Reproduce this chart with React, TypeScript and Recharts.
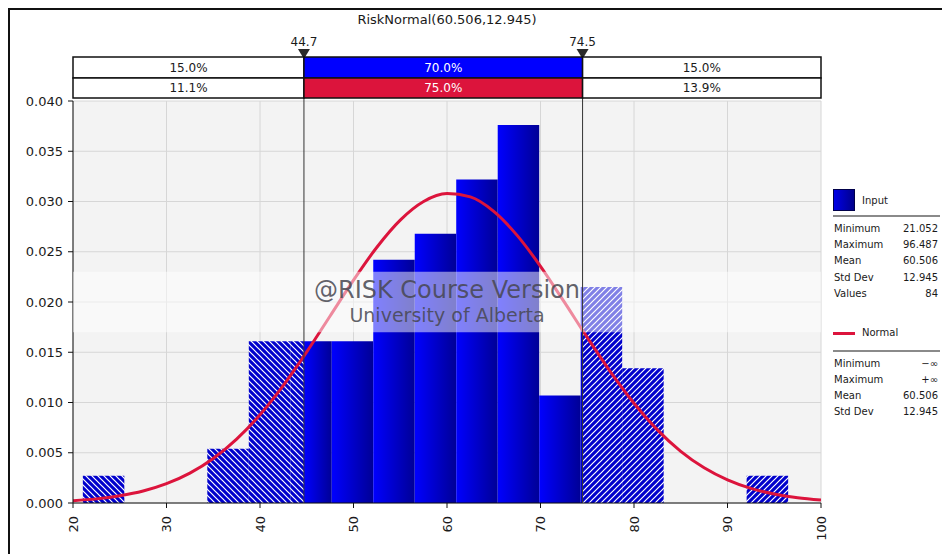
import React from 'react';
import {
  ComposedChart,
  Line,
  XAxis,
  YAxis,
  CartesianGrid,
  ReferenceArea,
  ReferenceLine,
} from 'recharts';

const FONT = '"DejaVu Sans", Verdana, sans-serif';
const TEXT = '#1a1a1a';

// histogram bin edges (17 bins) and their densities
const BIN_EDGES = [
  21.052, 25.489, 29.926, 34.364, 38.801, 43.238, 47.675, 52.112, 56.55,
  60.987, 65.424, 69.861, 74.298, 78.736, 83.173, 87.61, 92.047, 96.487,
];
const BIN_DENSITY = [
  0.0027, 0, 0, 0.0054, 0.0161, 0.0161, 0.0161, 0.0242, 0.0268, 0.0322,
  0.0376, 0.0107, 0.0215, 0.0134, 0, 0, 0.0027,
];

// fitted normal curve
const CURVE_X = [
  20, 22.5, 25, 27.5, 30, 32.5, 35, 37.5, 40, 42.5, 45, 47.5, 50, 52.5, 55,
  57.5, 60, 62.5, 65, 67.5, 70, 72.5, 75, 77.5, 80, 82.5, 85, 87.5, 90, 92.5,
  95, 97.5, 100,
];
const CURVE_PDF = [
  0.00023, 0.00041, 0.00072, 0.00119, 0.00192, 0.00297, 0.00443, 0.00636,
  0.00879, 0.01171, 0.01504, 0.01861, 0.02217, 0.02545, 0.02815, 0.03,
  0.03079, 0.03046, 0.02902, 0.02663, 0.02355, 0.02006, 0.01647, 0.01302,
  0.00992, 0.00728, 0.00514, 0.0035, 0.0023, 0.00145, 0.00089, 0.00052,
  0.00029,
];

const LEFT_CUT = 44.7;
const RIGHT_CUT = 74.5;
const X_TICKS = [20, 30, 40, 50, 60, 70, 80, 90, 100];
const Y_TICKS = [0, 0.005, 0.01, 0.015, 0.02, 0.025, 0.03, 0.035, 0.04];

const TARGET_PCT = ['15.0%', '70.0%', '15.0%'];
const SAMPLE_PCT = ['11.1%', '75.0%', '13.9%'];

const INPUT_STATS = [
  ['Minimum', '21.052'],
  ['Maximum', '96.487'],
  ['Mean', '60.506'],
  ['Std Dev', '12.945'],
  ['Values', '84'],
];
const NORMAL_STATS = [
  ['Minimum', '\u2212\u221e'],
  ['Maximum', '+\u221e'],
  ['Mean', '60.506'],
  ['Std Dev', '12.945'],
];

const curveData = CURVE_X.map((x, i) => ({ x, pdf: CURVE_PDF[i] }));

// split each bin at the two cut values so the tails can be hatched
type Piece = { lo: number; hi: number; h: number; zone: 'left' | 'mid' | 'right' };
const pieces: Piece[] = [];
BIN_DENSITY.forEach((h, i) => {
  if (!h) return;
  const stops = [BIN_EDGES[i], BIN_EDGES[i + 1]];
  [LEFT_CUT, RIGHT_CUT].forEach((c) => {
    if (c > stops[0] && c < stops[stops.length - 1]) stops.splice(stops.length - 1, 0, c);
  });
  for (let k = 0; k < stops.length - 1; k++) {
    const lo = stops[k];
    const hi = stops[k + 1];
    const zone = hi <= LEFT_CUT ? 'left' : lo >= RIGHT_CUT ? 'right' : 'mid';
    pieces.push({ lo, hi, h, zone });
  }
});

const ZONE_FILL = {
  left: 'url(#hatchLeft)',
  mid: 'url(#barShade)',
  right: 'url(#hatchRight)',
};

// header strip rows, in y-axis units above the plot
const HEADER_BOUNDS = [20, LEFT_CUT, RIGHT_CUT, 100];
const HEADER_ROWS = [
  { lo: 0.04229, hi: 0.04438, labels: TARGET_PCT, mid: '#0000ff' },
  { lo: 0.0403, hi: 0.04229, labels: SAMPLE_PCT, mid: '#dc143c' },
];

const XTick = (props: any) => {
  const { x, y, payload } = props;
  const ty = y + 6;
  return (
    <text
      x={x}
      y={ty}
      transform={`rotate(-90 ${x} ${ty})`}
      textAnchor="end"
      dominantBaseline="central"
      fontSize={13}
      fontFamily={FONT}
      fill={TEXT}
    >
      {payload.value}
    </text>
  );
};

const cutLabel = (value: string) => (props: any) => {
  const vb = props.viewBox || {};
  const x = vb.x;
  const top = vb.y;
  return (
    <g>
      <text x={x} y={top - 11} textAnchor="middle" fontSize={12} fontFamily={FONT} fill={TEXT}>
        {value}
      </text>
      <polygon points={`${x - 6},${top - 8} ${x + 6},${top - 8} ${x},${top + 2}`} fill="#2a2a2a" />
    </g>
  );
};

const watermark = (props: any) => {
  const vb = props.viewBox || {};
  const cx = vb.x + vb.width / 2;
  return (
    <g fontFamily={FONT} fill="#474750" fillOpacity={0.85} textAnchor="middle">
      <text x={cx} y={vb.y + 26} fontSize={24}>
        @RISK Course Version
      </text>
      <text x={cx} y={vb.y + 50} fontSize={19}>
        University of Alberta
      </text>
    </g>
  );
};

const statRow = (label: string, value: string, top: number) => (
  <div
    key={label + top}
    style={{ position: 'absolute', left: 834, top, width: 104, height: 12, lineHeight: '12px' }}
  >
    <span style={{ position: 'absolute', left: 0 }}>{label}</span>
    <span style={{ position: 'absolute', right: 0 }}>{value}</span>
  </div>
);

export default function App() {
  return (
    <div
      style={{
        position: 'absolute',
        left: 0,
        top: 0,
        width: 942,
        height: 554,
        overflow: 'hidden',
        background: '#fff',
        fontFamily: FONT,
        color: TEXT,
      }}
    >
      <div
        style={{
          position: 'absolute',
          left: 8,
          top: 8,
          width: 960,
          height: 600,
          borderLeft: '2px solid #111',
          borderTop: '2px solid #111',
        }}
      />
      <div
        style={{
          position: 'absolute',
          left: 73,
          width: 748,
          top: 12,
          textAlign: 'center',
          fontSize: 13,
        }}
      >
        RiskNormal(60.506,12.945)
      </div>

      <div style={{ position: 'absolute', left: 0, top: 0 }}>
        <ComposedChart
          width={942}
          height={554}
          data={curveData}
          margin={{ top: 101, right: 121, bottom: 0, left: 0 }}
        >
          <defs>
            <linearGradient id="barShade" x1="0" y1="0" x2="1" y2="0">
              <stop offset="0%" stopColor="#0000ff" />
              <stop offset="100%" stopColor="#000096" />
            </linearGradient>
            <pattern id="hatchLeft" patternUnits="userSpaceOnUse" width="6" height="6">
              <rect width="6" height="6" fill="#0000cc" />
              <path d="M0,0 L6,6 M-1,5 L1,7 M5,-1 L7,1" stroke="#ffffff" strokeWidth={1.2} />
            </pattern>
            <pattern id="hatchRight" patternUnits="userSpaceOnUse" width="6" height="6">
              <rect width="6" height="6" fill="#0000cc" />
              <path d="M0,6 L6,0 M-1,1 L1,-1 M5,7 L7,5" stroke="#ffffff" strokeWidth={1.2} />
            </pattern>
          </defs>
          <CartesianGrid stroke="#d6d6d6" fill="#f3f3f3" />
          <XAxis
            dataKey="x"
            type="number"
            domain={[20, 100]}
            ticks={X_TICKS}
            height={51}
            stroke="#111"
            tickSize={5}
            tick={<XTick />}
            allowDataOverflow
          />
          <YAxis
            type="number"
            domain={[0, 0.04]}
            ticks={Y_TICKS}
            width={73}
            stroke="#111"
            tickSize={5}
            tickMargin={5}
            tickFormatter={(v: number) => v.toFixed(3)}
            tick={{ fontSize: 13, fontFamily: FONT, fill: TEXT }}
          />

          {pieces.map((p, i) => (
            <ReferenceArea
              key={`bin-${i}`}
              x1={p.lo}
              x2={p.hi}
              y1={0}
              y2={p.h}
              fill={ZONE_FILL[p.zone]}
              fillOpacity={1}
              stroke="none"
              ifOverflow="visible"
            />
          ))}

          <Line
            dataKey="pdf"
            type="monotone"
            stroke="#dc143c"
            strokeWidth={3}
            dot={false}
            activeDot={false}
            isAnimationActive={false}
          />

          <ReferenceArea
            y1={0.017}
            y2={0.023}
            fill="#ffffff"
            fillOpacity={0.5}
            stroke="none"
            ifOverflow="visible"
            zIndex={900}
            label={watermark}
          />

          {[LEFT_CUT, RIGHT_CUT].map((c) => (
            <ReferenceLine
              key={`cut-${c}`}
              segment={[
                { x: c, y: 0 },
                { x: c, y: 0.04438 },
              ]}
              stroke="#333"
              strokeWidth={1}
              ifOverflow="visible"
              zIndex={950}
              label={cutLabel(c.toFixed(1))}
            />
          ))}

          {HEADER_ROWS.map((row, r) =>
            row.labels.map((lab, k) => (
              <ReferenceArea
                key={`hdr-${r}-${k}`}
                x1={HEADER_BOUNDS[k]}
                x2={HEADER_BOUNDS[k + 1]}
                y1={row.lo}
                y2={row.hi}
                fill={k === 1 ? row.mid : '#ffffff'}
                fillOpacity={1}
                stroke="#111"
                strokeWidth={1.5}
                ifOverflow="visible"
                zIndex={960}
                label={{
                  value: lab,
                  position: 'center',
                  fill: k === 1 ? '#ffffff' : TEXT,
                  fontSize: 12,
                  fontFamily: FONT,
                }}
              />
            ))
          )}
        </ComposedChart>
      </div>

      {/* statistics panel */}
      <div style={{ position: 'absolute', left: 0, top: 0, fontSize: 10 }}>
        <div
          style={{
            position: 'absolute',
            left: 833,
            top: 189,
            width: 20,
            height: 20,
            border: '1px solid #00004a',
            background: 'linear-gradient(to right, #0000e6, #00008c)',
          }}
        />
        <div style={{ position: 'absolute', left: 862, top: 195, lineHeight: '12px' }}>Input</div>
        <div
          style={{ position: 'absolute', left: 833, top: 215, width: 107, height: 2, background: '#8a8a8a' }}
        />
        {INPUT_STATS.map(([l, v], i) => statRow(l, v, 223 + i * 16.2))}

        <div
          style={{ position: 'absolute', left: 833, top: 332, width: 22, height: 3, background: '#dc143c' }}
        />
        <div style={{ position: 'absolute', left: 862, top: 327, lineHeight: '12px' }}>Normal</div>
        <div
          style={{ position: 'absolute', left: 833, top: 350, width: 107, height: 2, background: '#8a8a8a' }}
        />
        {NORMAL_STATS.map(([l, v], i) => statRow(l, v, 357.5 + i * 16.2))}
      </div>
    </div>
  );
}
